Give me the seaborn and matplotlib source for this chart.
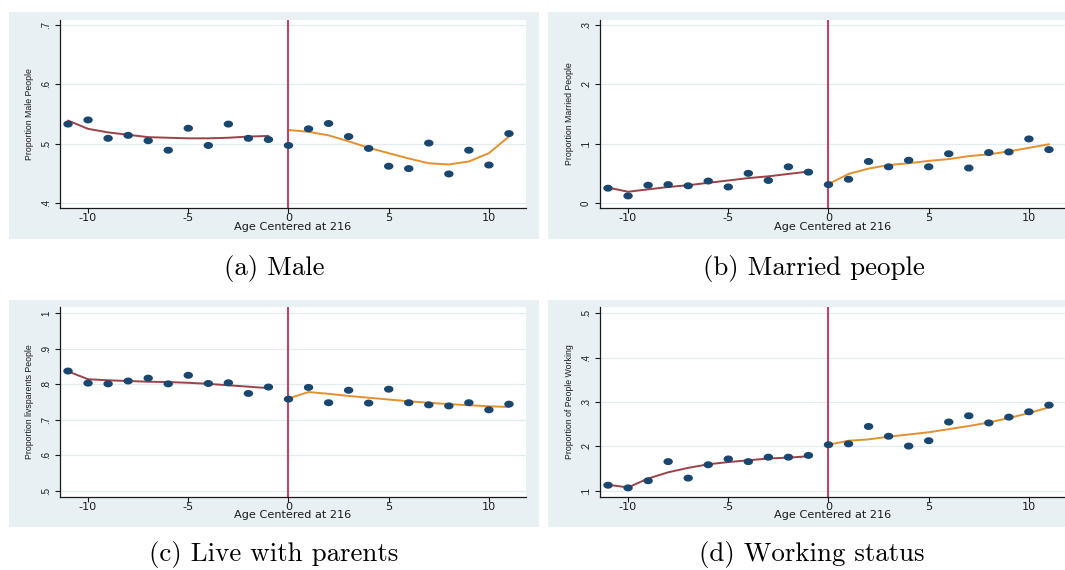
import matplotlib
matplotlib.use("Agg")
import matplotlib.pyplot as plt
import seaborn as sns
import numpy as np
from matplotlib.patches import Rectangle
from matplotlib.markers import MarkerStyle
from matplotlib.transforms import offset_copy

# ---------------- data ----------------
age = list(range(-11, 12))
age_left = list(range(-11, 0))
age_right = list(range(0, 12))
xticks = [-10, -5, 0, 5, 10]
xtick_labels = ["-10", "-5", "0", "5", "10"]

male_pts = [0.533, 0.540, 0.509, 0.514, 0.505, 0.489, 0.526, 0.497, 0.533, 0.509, 0.507,
            0.497, 0.525, 0.534, 0.512, 0.492, 0.462, 0.458, 0.501, 0.449, 0.489, 0.464, 0.517]
male_fit_l = [0.539, 0.525, 0.519, 0.515, 0.511, 0.510, 0.509, 0.509, 0.510, 0.512, 0.513]
male_fit_r = [0.523, 0.520, 0.514, 0.504, 0.493, 0.484, 0.475, 0.467, 0.465, 0.470, 0.484, 0.512]
male_yticks = [0.4, 0.5, 0.6, 0.7]
male_ylabels = [".4", ".5", ".6", ".7"]

married_pts = [0.025, 0.012, 0.030, 0.031, 0.029, 0.037, 0.027, 0.050, 0.038, 0.061, 0.052,
               0.031, 0.040, 0.070, 0.061, 0.072, 0.061, 0.083, 0.059, 0.085, 0.086, 0.108, 0.090]
married_fit_l = [0.026, 0.019, 0.023, 0.027, 0.030, 0.034, 0.038, 0.042, 0.045, 0.049, 0.053]
married_fit_r = [0.032, 0.049, 0.058, 0.064, 0.067, 0.071, 0.074, 0.079, 0.082, 0.087, 0.093, 0.099]
married_yticks = [0.0, 0.1, 0.2, 0.3]
married_ylabels = ["0", ".1", ".2", ".3"]

parents_pts = [0.837, 0.803, 0.801, 0.809, 0.817, 0.801, 0.825, 0.802, 0.804, 0.774, 0.792,
               0.758, 0.791, 0.748, 0.783, 0.747, 0.786, 0.748, 0.742, 0.739, 0.748, 0.728, 0.744]
parents_fit_l = [0.836, 0.814, 0.811, 0.809, 0.807, 0.806, 0.804, 0.801, 0.797, 0.793, 0.789]
parents_fit_r = [0.760, 0.778, 0.773, 0.767, 0.762, 0.757, 0.752, 0.748, 0.744, 0.741, 0.738, 0.736]
parents_yticks = [0.5, 0.6, 0.7, 0.8, 0.9, 1.0]
parents_ylabels = [".5", ".6", ".7", ".8", ".9", "1"]

working_pts = [0.113, 0.107, 0.123, 0.166, 0.129, 0.159, 0.172, 0.166, 0.176, 0.176, 0.180,
               0.204, 0.206, 0.245, 0.223, 0.201, 0.213, 0.255, 0.269, 0.253, 0.266, 0.278, 0.293]
working_fit_l = [0.114, 0.108, 0.128, 0.142, 0.152, 0.160, 0.165, 0.169, 0.173, 0.175, 0.178]
working_fit_r = [0.204, 0.213, 0.216, 0.222, 0.227, 0.232, 0.239, 0.246, 0.254, 0.264, 0.275, 0.288]
working_yticks = [0.1, 0.2, 0.3, 0.4, 0.5]
working_ylabels = [".1", ".2", ".3", ".4", ".5"]

ylabels = ["Proportion Male People", "Proportion Married People",
           "Proportion livsparents People", "Proportion of People Working"]
captions = ["(a) Male", "(b) Married people", "(c) Live with parents", "(d) Working status"]
xlabel = "Age Centered at 216"

# ---------------- style ----------------
sns.set_style("white")
plt.rcParams["axes.unicode_minus"] = False
plt.rcParams["font.family"] = ["DejaVu Sans"]

W, H = 1065, 570
NAVY = "#1a476f"
MAROON = "#9a4248"
ORANGE = "#e3902e"
CRIMSON = "#c92a50"
BG = "#e9f0f3"
GRID = "#e3ebee"
TXT = "#1a1a1a"
NARROW = ["Liberation Sans", "DejaVu Sans"]

fig = plt.figure(figsize=(W / 100, H / 100), dpi=100)


def frac(x0, y0, x1, y1):
    return [x0 / W, 1 - y1 / H, (x1 - x0) / W, (y1 - y0) / H]


# graph-region backgrounds
for (x0, y0, x1, y1) in [(9, 12, 539, 239), (548, 12, 1068, 239),
                         (9, 300, 539, 527), (548, 300, 1068, 527)]:
    fig.patches.append(Rectangle((x0 / W, 1 - y1 / H), (x1 - x0) / W, (y1 - y0) / H,
                                 transform=fig.transFigure, facecolor=BG,
                                 edgecolor="none", zorder=-10))

t = np.linspace(0, 2 * np.pi, 41)
ellipse = MarkerStyle(list(zip(1.35 * np.cos(t), np.sin(t))))

panels = [
    dict(rect=(60, 20, 526, 208), pts=male_pts, fl=male_fit_l, fr=male_fit_r,
         yt=male_yticks, yl=male_ylabels, ylim=(0.3916, 0.7084)),
    dict(rect=(600, 20, 1066, 208), pts=married_pts, fl=married_fit_l, fr=married_fit_r,
         yt=married_yticks, yl=married_ylabels, ylim=(-0.0084, 0.3084)),
    dict(rect=(60, 307, 526, 497), pts=parents_pts, fl=parents_fit_l, fr=parents_fit_r,
         yt=parents_yticks, yl=parents_ylabels, ylim=(0.4831, 1.0169)),
    dict(rect=(600, 307, 1066, 497), pts=working_pts, fl=working_fit_l, fr=working_fit_r,
         yt=working_yticks, yl=working_ylabels, ylim=(0.0865, 0.5135)),
]
cap_pos = [(274, 268), (814, 268), (274, 555), (812, 555)]

for i, p in enumerate(panels):
    ax = fig.add_axes(frac(*p["rect"]))
    ax.set_facecolor("white")
    ax.set_axisbelow(True)
    ax.yaxis.grid(True, color=GRID, lw=0.9)
    ax.xaxis.grid(False)

    sns.lineplot(x=age_left, y=p["fl"], ax=ax, color=MAROON, lw=1.4, zorder=2)
    sns.lineplot(x=age_right, y=p["fr"], ax=ax, color=ORANGE, lw=1.4, zorder=2)
    ax.axvline(0, color=CRIMSON, lw=1.3, zorder=2.5)
    sns.scatterplot(x=age, y=p["pts"], ax=ax, marker=ellipse, s=46, color=NAVY,
                    linewidth=0, edgecolor="none", zorder=3)

    ax.set_xlim(-11.4, 11.85)
    ax.set_ylim(*p["ylim"])
    ax.set_xticks(xticks, labels=xtick_labels)
    ax.set_yticks(p["yt"], labels=p["yl"])

    for s in ["top", "right"]:
        ax.spines[s].set_visible(False)
    for s in ["left", "bottom"]:
        ax.spines[s].set_color(TXT)
        ax.spines[s].set_linewidth(0.9)

    ax.tick_params(axis="x", length=3.4, width=0.8, pad=0, labelsize=8.1,
                   colors=TXT, bottom=True)
    ax.tick_params(axis="y", length=3.6, width=0.8, pad=3, labelsize=7.0,
                   colors=TXT, left=True, labelrotation=90)
    for tl in ax.get_yticklabels():
        tl.set_fontfamily(NARROW)
        tl.set_va("center")

    ax.set_xlabel(xlabel, fontsize=8.1, color=TXT, va="center")
    ax.xaxis.set_label_coords(0.5, 0, transform=offset_copy(ax.transAxes, fig=fig,
                                                             y=-18.5, units="dots"))
    ax.set_ylabel(ylabels[i], fontsize=6.3, color=TXT, va="center",
                  fontfamily=NARROW)
    ax.yaxis.set_label_coords(0, 0.5, transform=offset_copy(ax.transAxes, fig=fig,
                                                            x=-31, units="dots"))

    cx, cy = cap_pos[i]
    fig.text(cx / W, 1 - cy / H, captions[i], ha="center", va="center",
             fontsize=19.4, fontfamily="cmr10", color="black")

fig.savefig("out.png", dpi=100)
